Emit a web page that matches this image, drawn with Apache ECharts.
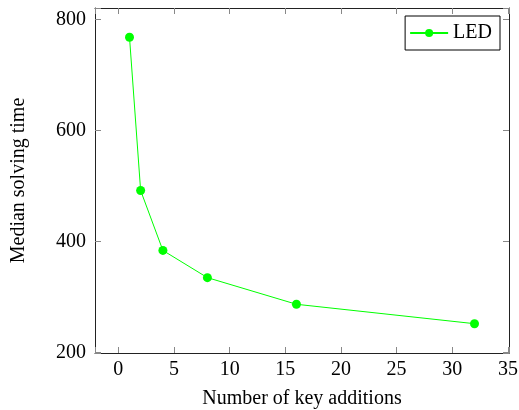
<!DOCTYPE html>
<html>
<head>
<meta charset="utf-8">
<script src="https://cdn.jsdelivr.net/npm/echarts@6/dist/echarts.min.js"></script>
<style>
  html, body { margin: 0; padding: 0; background: #fff; }
  #chart { width: 519px; height: 410px; }
</style>
</head>
<body>
<div id="chart"></div>
<script>
// 数据
var keyAdditions = [1, 2, 4, 8, 16, 32];
var ledTimes = [768, 492, 384, 335, 287, 252];

var font = 'Liberation Serif';
var myChart = echarts.init(document.getElementById('chart'));

function boxAxis(extra) {
    var base = {
        type: 'value',
        axisLine: { show: true, onZero: false, lineStyle: { color: '#222', width: 1 } },
        axisTick: { show: true, inside: true, length: 6, lineStyle: { color: '#888' } },
        splitLine: { show: false },
        axisLabel: { show: false }
    };
    return Object.assign(base, extra);
}

var option = {
    animation: false,
    grid: { left: 95, right: 10, top: 8, bottom: 57, outerBoundsMode: 'none', containLabel: false },
    legend: {
        data: ['LED'],
        right: 19,
        top: 16,
        padding: [7, 8, 7, 4],
        borderColor: '#000',
        borderWidth: 1,
        borderRadius: 0,
        itemWidth: 38,
        itemHeight: 10,
        itemGap: 0,
        textStyle: { fontFamily: font, fontSize: 20, color: '#000' }
    },
    xAxis: [
        boxAxis({
            min: -2.1, max: 35.1, splitNumber: 7,
            name: 'Number of key additions',
            nameLocation: 'middle',
            nameGap: 36,
            nameTextStyle: { fontFamily: font, fontSize: 20, color: '#000' },
            axisLabel: {
                show: true, margin: 7, fontFamily: font, fontSize: 20, color: '#000',
                formatter: function (v) { return v % 5 === 0 ? v : ''; }
            }
        }),
        boxAxis({ min: -2.1, max: 35.1, splitNumber: 7, position: 'top' })
    ],
    yAxis: [
        boxAxis({
            min: 199.2, max: 820.8, splitNumber: 3,
            name: 'Median solving time',
            nameLocation: 'middle',
            nameGap: 66,
            nameTextStyle: { fontFamily: font, fontSize: 20, color: '#000' },
            axisLabel: {
                show: true, margin: 9, fontFamily: font, fontSize: 20, color: '#000',
                formatter: function (v) { return v % 200 === 0 ? v : ''; }
            }
        }),
        boxAxis({ min: 199.2, max: 820.8, splitNumber: 3, position: 'right' })
    ],
    series: [
        {
            name: 'LED',
            type: 'line',
            data: keyAdditions.map(function (x, i) { return [x, ledTimes[i]]; }),
            symbol: 'circle',
            symbolSize: 9,
            itemStyle: { color: '#00ff00' },
            lineStyle: { color: '#00ff00', width: 1 }
        }
    ]
};

myChart.setOption(option);
</script>
</body>
</html>
